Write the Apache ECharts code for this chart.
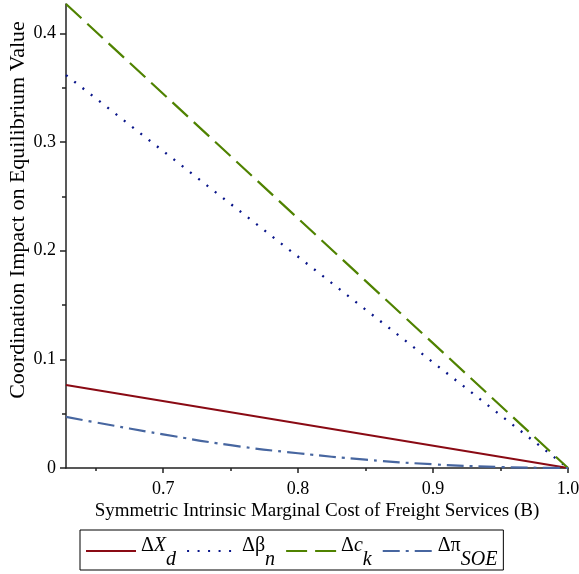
<!DOCTYPE html>
<html>
<head>
<meta charset="utf-8">
<script src="https://cdn.jsdelivr.net/npm/echarts@6/dist/echarts.min.js"></script>
<style>
html,body{margin:0;padding:0;background:#fff;}
#chart{width:579px;height:574px;}
</style>
</head>
<body>
<div id="chart"></div>
<script>
// ---- data ----
const seriesNames = ['ΔX_d', 'Δβ_n', 'Δc_k', 'Δπ_SOE'];
const xDeltaX = [0.628, 1.0];
const yDeltaX = [0.0764, 0.0];
const xDeltaBeta = [0.628, 1.0];
const yDeltaBeta = [0.3616, 0.0];
const xDeltaC = [0.628, 1.0];
const yDeltaC = [0.427, 0.0];
const xDeltaPi = [0.628, 0.65, 0.70, 0.75, 0.80, 0.85, 0.90, 0.95, 1.0];
const yDeltaPi = [0.047, 0.042, 0.031, 0.021, 0.0136, 0.0077, 0.0034, 0.0009, 0.0];
const xTickLabels = [0.7, 0.8, 0.9, 1.0];
const xMinorTicks = [0.65, 0.75, 0.85, 0.95];
const yTickLabels = [0, 0.1, 0.2, 0.3, 0.4];
const yMinorTicks = [0.05, 0.15, 0.25, 0.35];

const FONT = 'Liberation Serif';
const zip = (xs, ys) => xs.map((x, i) => [x, ys[i]]);

const legendText = {
  'ΔX_d': '{m|Δ}{i|X}{s|d}',
  'Δβ_n': '{m|Δβ}{s|n}',
  'Δc_k': '{m|Δ}{i|c}{s|k}',
  'Δπ_SOE': '{m|Δπ}{s|SOE}'
};

const chart = echarts.init(document.getElementById('chart'), null, {renderer: 'canvas'});
const axisLineStyle = {color: '#222', width: 1.5};

chart.setOption({
  animation: false,
  backgroundColor: '#fff',
  grid: {left: 66, right: 11, top: 4, bottom: 106, containLabel: false, outerBoundsMode: 'none'},
  legend: {
    left: 80, top: 530,
    data: seriesNames,
    borderColor: '#000', borderWidth: 1,
    padding: [2, 6, 0, 5],
    itemWidth: 50, itemHeight: 12, itemGap: 10,
    itemStyle: {opacity: 0},
    formatter: n => legendText[n],
    textStyle: {
      color: '#000', fontFamily: FONT,
      rich: {
        m: {fontFamily: FONT, fontSize: 20, color: '#000', lineHeight: 20, verticalAlign: 'top', padding: [4, 0, 0, 0]},
        i: {fontFamily: FONT, fontSize: 20, fontStyle: 'italic', color: '#000', lineHeight: 20, verticalAlign: 'top', padding: [4, 0, 0, 0]},
        s: {fontFamily: FONT, fontSize: 20, fontStyle: 'italic', color: '#000', lineHeight: 38, verticalAlign: 'bottom'}
      }
    }
  },
  xAxis: [{
    type: 'value', min: 0.628, max: 1.0,
    name: 'Symmetric Intrinsic Marginal Cost of Freight Services (B)',
    nameLocation: 'middle', nameGap: 34, nameMoveOverlap: false,
    nameTextStyle: {fontFamily: FONT, fontSize: 19, color: '#000'},
    axisLine: {show: true, onZero: false, lineStyle: axisLineStyle},
    axisTick: {show: true, length: 5, customValues: xTickLabels, lineStyle: axisLineStyle},
    axisLabel: {customValues: xTickLabels, margin: 12, fontFamily: FONT, fontSize: 18, color: '#000',
      formatter: v => v.toFixed(1)},
    splitLine: {show: false}
  }, {
    type: 'value', min: 0.628, max: 1.0, position: 'bottom',
    axisLine: {show: false},
    axisTick: {show: true, length: 3, customValues: xMinorTicks, lineStyle: axisLineStyle},
    axisLabel: {show: false},
    splitLine: {show: false}
  }],
  yAxis: [{
    type: 'value', min: 0, max: 0.427,
    name: 'Coordination Impact on Equilibrium Value',
    nameLocation: 'middle', nameGap: 37, nameMoveOverlap: false,
    nameTextStyle: {fontFamily: FONT, fontSize: 22, color: '#000', padding: [0, 0, 0, 52]},
    axisLine: {show: true, onZero: false, lineStyle: axisLineStyle},
    axisTick: {show: true, length: 6, customValues: yTickLabels, lineStyle: axisLineStyle},
    axisLabel: {customValues: yTickLabels, margin: 10, fontFamily: FONT, fontSize: 18, color: '#000',
      formatter: v => v === 0 ? '0' : v.toFixed(1)},
    splitLine: {show: false}
  }, {
    type: 'value', min: 0, max: 0.427, position: 'left',
    axisLine: {show: false},
    axisTick: {show: true, length: 4, customValues: yMinorTicks, lineStyle: axisLineStyle},
    axisLabel: {show: false},
    splitLine: {show: false}
  }],
  series: [{
    name: seriesNames[0], type: 'line', showSymbol: false, symbol: 'none',
    data: zip(xDeltaX, yDeltaX),
    lineStyle: {color: '#8a0a14', width: 2, type: 'solid'},
    itemStyle: {color: '#8a0a14'}
  }, {
    name: seriesNames[1], type: 'line', showSymbol: false, symbol: 'none',
    data: zip(xDeltaBeta, yDeltaBeta),
    lineStyle: {color: '#0a168a', width: 2.3, type: [2, 8.5]},
    itemStyle: {color: '#0a168a'}
  }, {
    name: seriesNames[2], type: 'line', showSymbol: false, symbol: 'none',
    data: zip(xDeltaC, yDeltaC),
    lineStyle: {color: '#4f8200', width: 2.2, type: [21, 8]},
    itemStyle: {color: '#4f8200'}
  }, {
    name: seriesNames[3], type: 'line', showSymbol: false, symbol: 'none', smooth: true,
    data: zip(xDeltaPi, yDeltaPi),
    lineStyle: {color: '#4766a0', width: 2.2, type: [17, 6, 3, 6]},
    itemStyle: {color: '#4766a0'}
  }]
});
</script>
</body>
</html>
